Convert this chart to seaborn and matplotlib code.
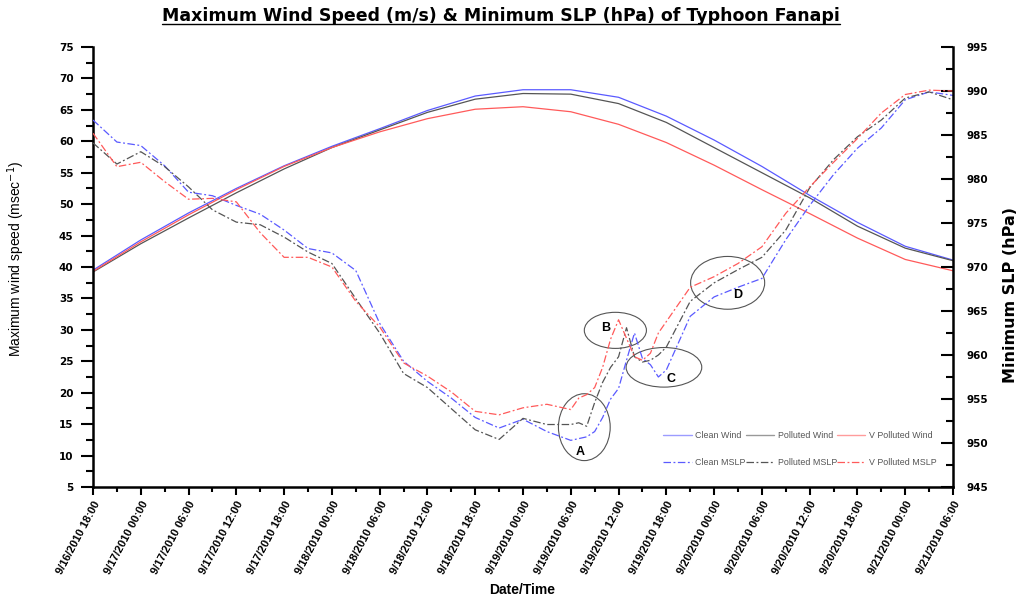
import numpy as np
import pandas as pd
import matplotlib
matplotlib.use("Agg")
import matplotlib.pyplot as plt
import matplotlib.dates as mdates
from matplotlib.patches import Ellipse
from matplotlib.lines import Line2D
import seaborn as sns

start = pd.Timestamp("2010-09-16 18:00")

# wind, every 6 hours
wind_hours = [0, 6, 12, 18, 24, 30, 36, 42, 48, 54, 60, 66, 72, 78, 84, 90, 96, 102, 108]
clean_wind = [39.5, 44.3, 48.6, 52.5, 56.1, 59.2, 62.0, 64.9, 67.2, 68.2, 68.2, 67.0, 64.0, 60.2, 56.0, 51.4, 47.1, 43.3, 41.1]
polluted_wind = [39.2, 43.7, 47.8, 51.8, 55.6, 59.0, 61.8, 64.6, 66.7, 67.6, 67.5, 66.0, 63.0, 59.0, 55.0, 51.0, 46.5, 43.0, 41.0]
vpolluted_wind = [39.3, 44.0, 48.3, 52.3, 56.0, 59.0, 61.5, 63.6, 65.1, 65.5, 64.7, 62.7, 59.8, 56.2, 52.3, 48.5, 44.6, 41.2, 39.4]

# MSLP (hPa)
mslp_hours = [0, 3, 6, 9, 12, 15, 18, 21, 24, 27, 30, 33, 36, 39, 42, 45, 48, 51, 54, 57,
              60, 61, 62, 63, 64, 65, 66, 67, 68, 69, 70, 71, 72,
              75, 78, 81, 84, 87, 90, 93, 96, 99, 102, 105, 108]
clean_mslp = [986.7, 984.2, 983.8, 981.5, 978.5, 978.1, 977.0, 976.0, 974.2, 972.1, 971.6, 969.6, 963.6, 959.3, 957.0, 955.1, 952.9, 951.7, 952.7, 951.3,
              950.3, 950.5, 950.7, 951.3, 952.9, 955.0, 956.2, 959.4, 962.5, 959.6, 958.9, 957.5, 958.3,
              964.4, 966.6, 967.7, 968.7, 973.1, 977.0, 980.5, 983.5, 985.8, 989.0, 989.9, 989.5]
polluted_mslp = [984.1, 981.7, 983.1, 981.4, 979.1, 976.5, 975.1, 974.8, 973.4, 971.7, 970.4, 966.4, 962.5, 957.9, 956.3, 953.9, 951.5, 950.4, 952.8, 952.1,
                 952.1, 952.3, 951.9, 954.6, 956.9, 958.6, 959.8, 963.1, 959.8, 959.2, 959.4, 960.0, 960.9,
                 966.1, 968.2, 969.7, 971.1, 974.2, 979.0, 982.2, 984.8, 986.7, 989.2, 989.9, 989.0]
vpolluted_mslp = [985.2, 981.4, 981.9, 979.7, 977.7, 977.8, 977.4, 973.9, 971.1, 971.1, 970.0, 966.1, 963.2, 959.1, 957.6, 955.8, 953.6, 953.2, 954.0, 954.4,
                  953.8, 955.1, 955.5, 956.3, 958.6, 961.8, 964.0, 961.9, 959.8, 959.4, 960.2, 962.5, 963.8,
                  967.7, 968.9, 970.4, 972.3, 976.1, 979.1, 981.9, 984.6, 987.5, 989.6, 990.1, 990.0]

# circled regions
marks = ["A", "B", "C", "D"]
mark_x = [61.7, 65.6, 71.7, 79.7]
mark_y = [951.8, 962.8, 958.6, 968.2]
mark_w = [6.5, 7.8, 9.5, 9.3]
mark_h = [7.6, 4.1, 4.5, 6.0]
label_x = [61.2, 64.4, 72.6, 80.9]
label_y = [949.0, 963.1, 957.3, 966.8]

tick_hours = list(range(0, 109, 6))

blue = "#5a5aff"
black = "#555555"
red = "#ff5a5a"

sns.set_style("ticks")
plt.rcParams['font.family'] = ['Liberation Sans', 'DejaVu Sans']
plt.rcParams.update({"text.color": "black", "axes.labelcolor": "black",
                     "xtick.color": "black", "ytick.color": "black"})


def to_time(h):
    return start + pd.to_timedelta(np.asarray(h, dtype=float), unit="h")


wind = pd.DataFrame({
    "time": np.tile(to_time(wind_hours), 3),
    "value": clean_wind + polluted_wind + vpolluted_wind,
    "series": ["Clean Wind"] * 19 + ["Polluted Wind"] * 19 + ["V Polluted Wind"] * 19,
})
n = len(mslp_hours)
mslp = pd.DataFrame({
    "time": np.tile(to_time(mslp_hours), 3),
    "value": clean_mslp + polluted_mslp + vpolluted_mslp,
    "series": ["Clean MSLP"] * n + ["Polluted MSLP"] * n + ["V Polluted MSLP"] * n,
})

fig = plt.figure(figsize=(10.19, 6.0), dpi=100)
ax = fig.add_axes([93 / 1019, 1 - 487 / 600, 860 / 1019, 440 / 600])
ax2 = ax.twinx()

sns.lineplot(data=wind, x="time", y="value", hue="series",
             palette=[blue, black, red], linewidth=0.9, ax=ax, legend=False)
sns.lineplot(data=mslp, x="time", y="value", hue="series",
             palette=[blue, black, red], linewidth=0.9, ax=ax2, legend=False)
for l in ax2.get_lines():
    l.set_dashes([6, 2, 1.5, 2])

ax.set_ylim(5, 75)
ax2.set_ylim(945, 995)
ax.set_xlim(to_time([0])[0], to_time([108])[0])

ax.set_yticks(range(5, 76, 5))
ax.set_yticks(np.arange(7.5, 75, 5), minor=True)
ax2.set_yticks(range(945, 996, 5))
ax2.set_yticks(np.arange(947.5, 995, 5), minor=True)

ticks = to_time(tick_hours)
ax.set_xticks(ticks)
ax.set_xticks(to_time(np.arange(3, 108, 6)), minor=True)
ax.set_xticklabels([f"{t.month}/{t.day}/{t.year} {t:%H:%M}" for t in ticks],
                   rotation=62, ha="right", va="top", rotation_mode="anchor",
                   fontsize=8, fontweight="bold")

for a in (ax, ax2):
    a.spines["top"].set_visible(False)
    for s in a.spines.values():
        s.set_linewidth(1.8)
        s.set_color("black")
ax.spines["right"].set_visible(False)
ax2.spines["left"].set_visible(False)
ax2.spines["bottom"].set_visible(False)

ax.tick_params(axis="y", which="major", direction="out", length=9, width=1.5, labelsize=7.5, pad=5)
ax.tick_params(axis="y", which="minor", direction="out", length=5, width=1.5)
ax.tick_params(axis="x", which="major", direction="out", length=6, width=1.5, pad=3)
ax.tick_params(axis="x", which="minor", direction="out", length=3.5, width=1.5)
ax2.tick_params(axis="y", which="major", direction="in", length=9, width=1.5, labelsize=7.5, pad=10)
ax2.tick_params(axis="y", which="minor", direction="in", length=5, width=1.5)
for lab in ax.get_yticklabels() + ax2.get_yticklabels():
    lab.set_fontweight("bold")
    lab.set_family("DejaVu Sans")

ax.set_xlabel("Date/Time", fontsize=10, fontweight="bold")
ax.xaxis.set_label_coords(0.499, -0.218)
ax.set_ylabel("Maximum wind speed (msec$^{-1}$)", fontsize=10)
ax.yaxis.set_label_coords(-0.077, 0.518)
ax2.set_ylabel("Minimum SLP (hPa)", fontsize=11.5, fontweight="bold", family="DejaVu Sans")
ax2.yaxis.set_label_coords(1.058, 0.436)

for m, cx, cy, w, h, lx, ly in zip(marks, mark_x, mark_y, mark_w, mark_h, label_x, label_y):
    c = mdates.date2num(to_time([cx])[0])
    ax2.add_patch(Ellipse((c, cy), w / 24, h, fill=False, edgecolor="#555555", linewidth=0.8))
    ax2.text(mdates.date2num(to_time([lx])[0]), ly, m, fontsize=9, fontweight="bold",
             ha="center", va="center")

handles = []
labels = []
for col, nm in zip([blue, black, red], ["Clean", "Polluted", "V Polluted"]):
    handles.append(Line2D([], [], color=col, linewidth=1.0, alpha=0.6))
    labels.append(f"{nm} Wind")
    handles.append(Line2D([], [], color=col, linewidth=0.9, dashes=[6, 2, 1.5, 2]))
    labels.append(f"{nm} MSLP")
leg = ax2.legend(handles, labels, ncol=3, loc="center", bbox_to_anchor=(0.822, 0.086),
                 frameon=False, fontsize=6.4, handlelength=3.2, columnspacing=0.0,
                 labelspacing=2.0, handletextpad=0.4)
for t in leg.get_texts():
    t.set_color("#555555")

title = fig.text(0.492, 1 - 16 / 600, "Maximum Wind Speed (m/s) & Minimum SLP (hPa) of Typhoon Fanapi",
                 ha="center", va="center", fontsize=12.5, fontweight="bold", family="DejaVu Sans")
fig.canvas.draw()
bb = title.get_window_extent()
inv = fig.transFigure.inverted()
(x0, y0), (x1, _) = inv.transform([(bb.x0, bb.y0), (bb.x1, bb.y0)])
fig.add_artist(Line2D([x0, x1], [y0 + 0.001, y0 + 0.001], color="black", linewidth=1.0,
                      transform=fig.transFigure))

fig.savefig("out.png", dpi=100)
